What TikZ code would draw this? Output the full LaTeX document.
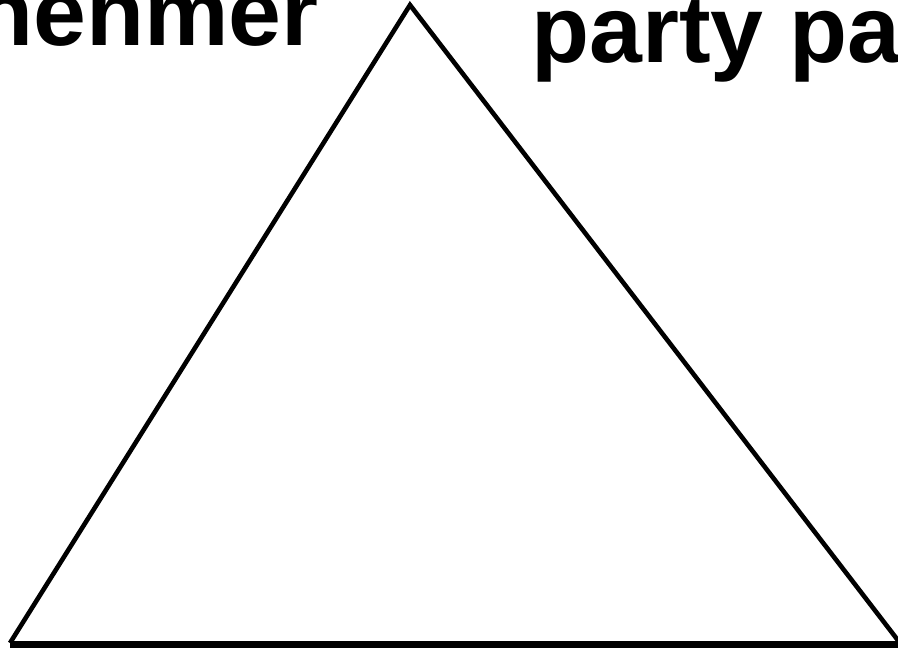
\documentclass[tikz,border=0pt]{standalone}
\usepackage{fontspec}
\setmainfont{Liberation Sans}
\usetikzlibrary{positioning}
\tikzset{
  word/.style={inner sep=0pt,font=\fontsize{95}{95}\selectfont\bfseries,text=black},
  side/.style={line width=4.6pt,line join=miter}
}
\begin{document}
\begin{tikzpicture}[x=1pt,y=1pt]
    \useasboundingbox (0,0) rectangle (898,648);
    \clip (0,0) rectangle (898,648);
    \coordinate (top) at (410,643);
    \coordinate (bl) at (10,5);
    \coordinate (br) at (900,5);
    \draw[side] (bl) -- (top) -- (br);
    \draw[line width=6.5pt] ([yshift=-1.5pt]bl) -- ([yshift=-1.5pt]br);
    \node[word,anchor=base east] (left) at (319,602) {nehmer};
    \node[word,anchor=base west] (right) at (531,585) {party pa};
\end{tikzpicture}
\end{document}
